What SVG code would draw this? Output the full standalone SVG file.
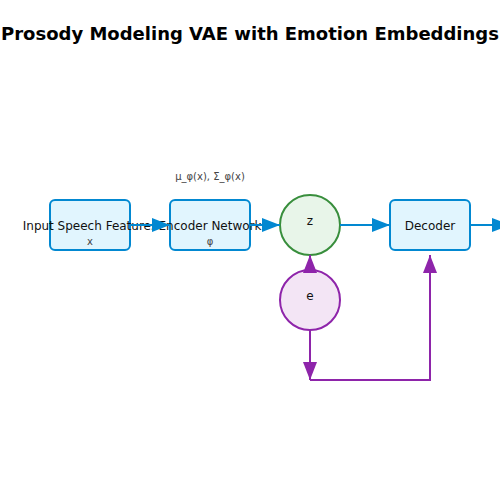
<svg xmlns="http://www.w3.org/2000/svg" width="500" height="500" viewBox="0 0 500 500">
<defs>
<style>
.box{fill:#e1f5fe;stroke:#0288d1;stroke-width:2}
.lbl{font-family:"DejaVu Sans",sans-serif;font-size:12px;fill:#111;text-anchor:middle}
.sub{font-family:"DejaVu Sans",sans-serif;font-size:10px;fill:#444;text-anchor:middle}
.blue{stroke:#0288d1;stroke-width:2;fill:none}
.purp{stroke:#8e24aa;stroke-width:2;fill:none}
</style>
<marker id="ab" markerUnits="userSpaceOnUse" markerWidth="18" markerHeight="14" refX="18" refY="7" orient="auto"><path d="M0,0 L18,7 L0,14 z" fill="#0288d1"/></marker>
<marker id="ap" markerUnits="userSpaceOnUse" markerWidth="18" markerHeight="14" refX="18" refY="7" orient="auto"><path d="M0,0 L18,7 L0,14 z" fill="#8e24aa"/></marker>
</defs>
<rect width="500" height="500" fill="#fff"/>
<text x="250" y="40" font-family="'DejaVu Sans',sans-serif" font-size="18" font-weight="bold" text-anchor="middle" fill="#000">Prosody Modeling VAE with Emotion Embeddings</text>
<g id="input">
<rect class="box" x="50" y="200" width="80" height="50" rx="5"/>
<text class="lbl" x="90" y="230">Input Speech Features</text>
<text class="sub" x="90" y="245">x</text>
</g>
<g id="encoder">
<rect class="box" x="170" y="200" width="80" height="50" rx="5"/>
<text class="lbl" x="210" y="230">Encoder Network</text>
<text class="sub" x="210" y="245">φ</text>
<text class="sub" x="210" y="180">μ_φ(x), Σ_φ(x)</text>
</g>
<g id="z">
<circle cx="310" cy="225" r="30" fill="#e8f5e9" stroke="#388e3c" stroke-width="2"/>
<text class="lbl" x="310" y="225">z</text>
</g>
<g id="decoder">
<rect class="box" x="390" y="200" width="80" height="50" rx="5"/>
<text class="lbl" x="430" y="230">Decoder</text>
</g>
<g id="e">
<circle cx="310" cy="300" r="30" fill="#f3e5f5" stroke="#8e24aa" stroke-width="2"/>
<text class="lbl" x="310" y="300">e</text>
</g>
<g id="connectors">
<line class="blue" x1="130" y1="225" x2="170" y2="225" marker-end="url(#ab)"/>
<line class="blue" x1="250" y1="225" x2="280" y2="225" marker-end="url(#ab)"/>
<line class="blue" x1="340" y1="225" x2="390" y2="225" marker-end="url(#ab)"/>
<line class="blue" x1="470" y1="225" x2="510" y2="225" marker-end="url(#ab)"/>
<line class="purp" x1="310" y1="270" x2="310" y2="255" marker-end="url(#ap)"/>
<line class="purp" x1="310" y1="330" x2="310" y2="380" marker-end="url(#ap)"/>
<polyline class="purp" points="310,380 430,380 430,255" marker-end="url(#ap)"/>
</g>
</svg>
